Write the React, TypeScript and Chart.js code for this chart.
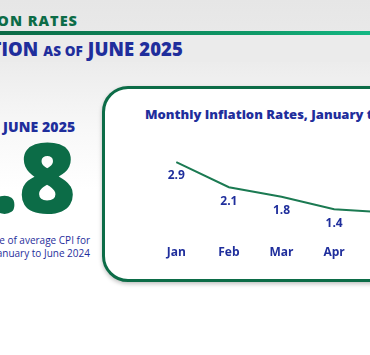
import React, { useEffect, useRef } from "react";
import { Chart, registerables } from "chart.js";

Chart.register(...registerables);

const months = ["Jan", "Feb", "Mar", "Apr", "May", "Jun"];
const inflationRates = [2.9, 2.1, 1.8, 1.4, 1.3, 1.4];
const headline = "1.8";

const BLUE = "#1f2e9c";
const GREEN = "#0c6c47";
const FONT = "'Open Sans', Inter, sans-serif";

const valueLabels = {
  id: "valueLabels",
  afterDatasetsDraw(chart: any) {
    const ctx = chart.ctx;
    const meta = chart.getDatasetMeta(0);
    const data = chart.data.datasets[0].data as number[];
    ctx.save();
    ctx.fillStyle = BLUE;
    ctx.font = `700 12px ${FONT}`;
    ctx.textAlign = "center";
    ctx.textBaseline = "middle";
    meta.data.forEach((pt: any, i: number) => {
      ctx.fillText(data[i].toFixed(1), pt.x, pt.y + 14);
    });
    ctx.restore();
  },
};

function LineChart() {
  const ref = useRef<HTMLCanvasElement>(null);
  useEffect(() => {
    if (!ref.current) return;
    const chart = new Chart(ref.current, {
      type: "line",
      data: {
        labels: months,
        datasets: [
          {
            data: inflationRates,
            borderColor: "#1b7a52",
            borderWidth: 2,
            pointRadius: 0,
            tension: 0,
            fill: false,
          },
        ],
      },
      options: {
        responsive: false,
        animation: false,
        layout: { padding: 0 },
        plugins: { legend: { display: false }, tooltip: { enabled: false } },
        scales: {
          x: {
            offset: true,
            grid: { display: false, drawTicks: false },
            border: { display: false },
            ticks: {
              color: BLUE,
              padding: 20,
              font: { family: FONT, size: 12, weight: "bold" },
            },
            afterFit: (s: any) => {
              s.height = 36;
            },
          },
          y: { display: false, min: 0.9, max: 3.6 },
        },
      },
      plugins: [valueLabels],
    });
    return () => chart.destroy();
  }, []);
  return (
    <canvas
      ref={ref}
      width={322}
      height={121}
      style={{ position: "absolute", left: 147, top: 140, width: 322, height: 121 }}
    />
  );
}

export default function App() {
  return (
    <div
      style={{
        position: "fixed",
        left: 0,
        top: 0,
        width: 370,
        height: 355,
        overflow: "hidden",
        fontFamily: FONT,
        background:
          "linear-gradient(#e6e6e6 0px, #e9e9e9 36px, #ececec 62px, #f1f1f1 90px, #f8f8f8 130px, #ffffff 190px)",
      }}
    >
      <div
        style={{
          position: "absolute",
          right: 370 - 78,
          top: 11,
          whiteSpace: "nowrap",
          color: GREEN,
          fontWeight: 800,
          fontSize: 14.5,
          lineHeight: "20px",
          letterSpacing: 1,
        }}
      >
        INFLATION RATES
      </div>
      <div
        style={{
          position: "absolute",
          left: 0,
          top: 31,
          width: 370,
          height: 4,
          background: "linear-gradient(90deg, #0b6a46, #0f9a68 70%, #14b884)",
        }}
      />
      <div
        style={{
          position: "absolute",
          left: 0,
          top: 35,
          width: 370,
          height: 27,
          background: "#ebebeb",
        }}
      />
      <div
        style={{
          position: "absolute",
          right: 370 - 183,
          top: 38,
          whiteSpace: "nowrap",
          color: BLUE,
          fontWeight: 800,
          fontSize: 18.5,
          lineHeight: "22px",
          letterSpacing: 0.1,
        }}
      >
        INFLATION <span style={{ fontSize: 13.5 }}>AS OF</span> JUNE 2025
      </div>

      <div
        style={{
          position: "absolute",
          left: 3,
          top: 117,
          whiteSpace: "nowrap",
          color: BLUE,
          fontWeight: 800,
          fontSize: 14,
          lineHeight: "20px",
          letterSpacing: 0.1,
        }}
      >
        <span style={{ position: "absolute", right: "calc(100% + 6px)", top: 0 }}>AS OF</span>
        JUNE 2025
      </div>
      <div
        style={{
          position: "absolute",
          right: 370 - 76,
          top: 120,
          whiteSpace: "nowrap",
          color: GREEN,
          fontWeight: 800,
          fontSize: 98,
          lineHeight: "110px",
        }}
      >
        {headline}
      </div>
      <div
        style={{
          position: "absolute",
          right: 370 - 90,
          top: 234,
          whiteSpace: "nowrap",
          color: BLUE,
          fontWeight: 400,
          fontSize: 10,
          lineHeight: "13px",
          textAlign: "right",
          letterSpacing: 0,
        }}
      >
        Percentage change of average CPI for
        <br />
        January to June 2024
      </div>

      <div
        style={{
          position: "absolute",
          left: 102,
          top: 86,
          width: 420,
          height: 190,
          border: `3px solid ${GREEN}`,
          borderRadius: 26,
          background: "#ffffff",
          boxShadow: "0 2px 4px rgba(0,0,0,0.25)",
        }}
      />
      <div
        style={{
          position: "absolute",
          left: 145,
          top: 105,
          whiteSpace: "nowrap",
          color: BLUE,
          fontWeight: 800,
          fontSize: 13,
          lineHeight: "18px",
        }}
      >
        Monthly Inflation Rates, January to June 2025
      </div>
      <LineChart />
    </div>
  );
}
